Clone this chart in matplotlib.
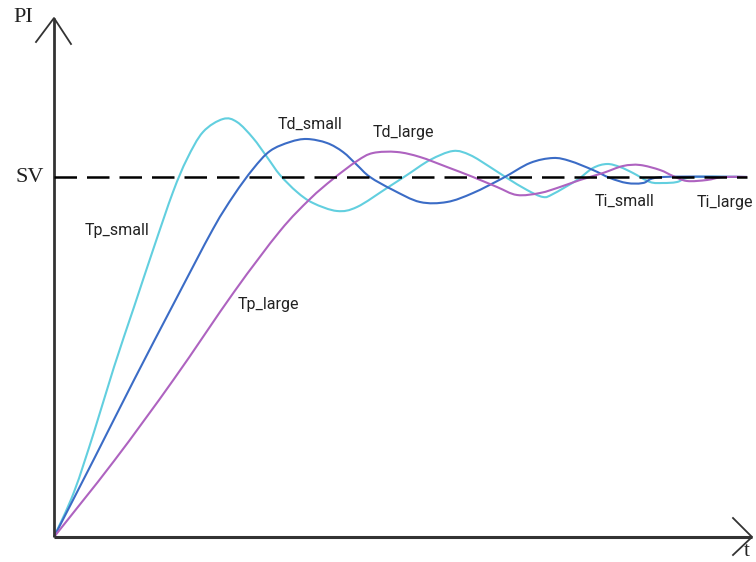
import matplotlib
matplotlib.use("Agg")
import matplotlib.pyplot as plt
from matplotlib.path import Path
from matplotlib.patches import PathPatch

# ---- data (t: time units, v: process value, SV = 360) ----
SV = 360
T_END = 693

t_tp_small = [0, 20, 40, 60, 80, 100, 119, 133, 149, 169, 183, 199, 213, 226, 243, 259, 283,
              303, 333, 353, 376, 399, 416, 436, 453, 473, 489, 499, 523, 539, 553, 566, 579, 596,
              609, 623, 639, 693]
v_tp_small = [0, 45, 105, 170, 230, 290, 345, 378, 405, 418, 415, 399, 380, 362, 345, 334, 326,
              330, 349, 362, 377, 386, 382, 370, 359, 347, 340, 343, 357, 369, 373, 370, 364, 355,
              354, 355, 360, 360]

t_td_small = [0, 40, 80, 120, 159, 180, 199, 216, 236, 253, 273, 289, 303, 316, 339, 366, 393,
              419, 449, 476, 499, 516, 539, 556, 573, 589, 609, 693]
v_td_small = [0, 78, 157, 234, 308, 342, 368, 386, 395, 398, 394, 385, 372, 360, 347, 335, 335,
              344, 359, 374, 379, 376, 367, 359, 354, 354, 360, 360]

t_large = [0, 60, 120, 180, 226, 256, 279, 303, 319, 343, 366, 393, 419, 443, 463, 486, 506,
           526, 549, 569, 586, 606, 619, 633, 653, 669, 693]
v_large = [0, 76, 158, 245, 306, 338, 358, 376, 384, 385, 380, 370, 360, 350, 342, 344, 350,
           357, 364, 371, 372, 367, 361, 356, 357, 360, 360]

labels = ["Tp_small", "Td_small", "Td_large", "Tp_large", "Ti_small", "Ti_large"]
label_pos = [(63, 307), (256, 413), (349, 404), (214, 232), (571, 336), (671, 335)]


def smooth_path(xs, ys):
    """Smooth drawing path through the given points (Catmull-Rom as cubic Bezier)."""
    pts = list(zip(xs, ys))
    verts = [pts[0]]
    codes = [Path.MOVETO]
    n = len(pts)
    for i in range(n - 1):
        p0 = pts[i - 1] if i > 0 else pts[i]
        p1 = pts[i]
        p2 = pts[i + 1]
        p3 = pts[i + 2] if i + 2 < n else pts[i + 1]
        c1 = (p1[0] + (p2[0] - p0[0]) / 6, p1[1] + (p2[1] - p0[1]) / 6)
        c2 = (p2[0] - (p3[0] - p1[0]) / 6, p2[1] - (p3[1] - p1[1]) / 6)
        verts += [c1, c2, p2]
        codes += [Path.CURVE4] * 3
    return Path(verts, codes)


# ---- figure ----
W, H = 756, 562
X0, Y0 = 54, 537          # pixel position of origin
fig = plt.figure(figsize=(W / 100, H / 100), dpi=100)
ax = fig.add_axes([0, 0, 1, 1])
ax.set_xlim(-X0, W - X0)
ax.set_ylim(Y0 - H, Y0)
ax.axis("off")

axis_col = "#333333"
# axes with open arrowheads
ax.plot([0, 0], [0, 519], color=axis_col, lw=2, solid_capstyle="butt")
ax.plot([-18, 0, 17], [495, 519, 493], color=axis_col, lw=1.3)
ax.plot([0, 698], [0, 0], color=axis_col, lw=2.2, solid_capstyle="butt")
ax.plot([679, 698, 679], [19, 0, -18], color=axis_col, lw=1.3)

# SV dashed line
ax.plot([0, T_END], [SV, SV], color="black", lw=1.8, dashes=(9, 4))

# response curves
for xs, ys, col in [(t_tp_small, v_tp_small, "#62CFDF"),
                    (t_td_small, v_td_small, "#3B6CC6"),
                    (t_large, v_large, "#AE63C0")]:
    ax.add_patch(PathPatch(smooth_path(xs, ys), facecolor="none", edgecolor=col, lw=1.5))

lab_font = ["Roboto", "DejaVu Sans"]
for s, (x, y) in zip(labels, label_pos):
    ax.text(x, y, s, fontsize=11.5, family=lab_font, color="#222222", ha="center", va="center")

serif = ["Liberation Serif", "DejaVu Serif"]
ax.text(-21, 519, "PI", fontsize=16, family=serif, ha="right", va="center", color="#222222")
ax.text(-10, SV, "SV", fontsize=16, family=serif, ha="right", va="center", color="#222222")
ax.text(690, -15, "t", fontsize=15, family=serif, ha="left", va="center", color="#222222")

fig.savefig("out.png", dpi=100)
